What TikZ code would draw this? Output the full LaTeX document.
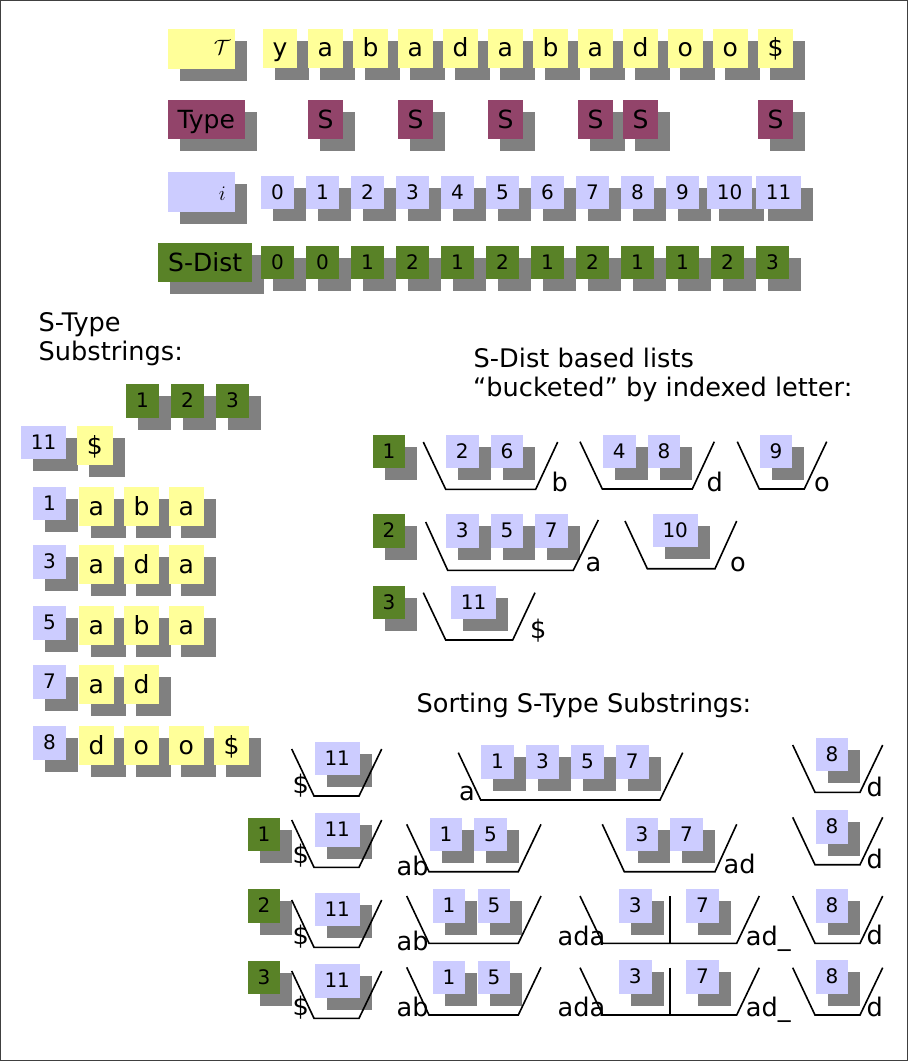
\documentclass[tikz,border=0pt]{standalone}
\usepackage{fontspec}
\setmainfont{DejaVu Sans}
\usetikzlibrary{shadows}
\definecolor{yel}{RGB}{255,255,153}
\definecolor{lav}{RGB}{204,204,255}
\definecolor{pur}{RGB}{146,68,106}
\definecolor{grnc}{RGB}{89,130,39}
\definecolor{shd}{RGB}{128,128,128}
\tikzset{
  bx/.style={inner xsep=10pt, inner ysep=5pt, anchor=north west,
    drop shadow={shadow xshift=12pt, shadow yshift=-12pt, fill=shd, opacity=1}},
  big/.style={font=\fontsize{25}{30}\selectfont, text height=23.2pt, text depth=5.9pt},
  small/.style={font=\fontsize{20}{24}\selectfont, text height=18.6pt, text depth=4.7pt},
  lbox/.style={bx, big, fill=yel},
  sbox/.style={bx, big, fill=pur},
  nbox/.style={bx, small, fill=lav},
  gbox/.style={bx, small, fill=grnc},
  txt/.style={anchor=base west, inner sep=0pt, font=\fontsize{25.6}{30}\selectfont},
  bkt/.style={draw=black, line width=1.6pt}
}
\begin{document}
\begin{tikzpicture}[x=1pt,y=-1pt]
\useasboundingbox (0,0) rectangle (908,1061);
\draw[black!75, line width=1pt] (0.8,0.8) rectangle (907.2,1060.2);

% ---------- top table ----------
\node[bx, fill=yel, minimum width=67.3pt, minimum height=40.7pt, inner sep=0pt] (Tlab) at (167.7,28.3) {};
\node[anchor=east, inner sep=0pt, font=\fontsize{20}{24}\selectfont] (Tsym) at (230.7,47.5) {$\mathcal{T}$};
\foreach \c [count=\k from 0] in {y,a,b,a,d,a,b,a,d,o,o,\$}
  \node[lbox] (T\k) at ({262.3+45*\k},28.3) {\c};

\node[sbox] (Tylab) at (167.3,100) {Type};
\foreach \k in {1,3,5,7,8,11}
  \node[sbox] (ty\k) at ({262.3+45*\k},100) {S};

\node[bx, fill=lav, minimum width=67pt, minimum height=40pt, inner sep=0pt] (ilab) at (168,172) {};
\node[anchor=east, inner sep=0pt, font=\fontsize{20}{24}\selectfont] (isym) at (226,193.5) {$i$};
\foreach \k in {0,...,9}
  \node[nbox] (ix\k) at ({261+45*\k},175.3) {\k};
\node[nbox] (ix10) at (706.7,175.3) {10};
\node[nbox] (ix11) at (755.7,175.3) {11};

\node[bx, big, fill=grnc] (sdlab) at (158,243) {S-Dist};
\foreach \v [count=\k from 0] in {0,0,1,2,1,2,1,2,1,1,2,3}
  \node[gbox] (sd\k) at ({261+45*\k},245.7) {\v};

% ---------- S-type substrings ----------
\node[txt] (st1) at (38.5,331.7) {S-Type};
\node[txt] (st2) at (38.5,360.7) {Substrings:};
\node[gbox] (h1) at (126,384) {1};
\node[gbox] (h2) at (171,384) {2};
\node[gbox] (h3) at (216,384) {3};

\node[nbox] (s11) at (20.7,425.7) {11};
\node[lbox] (s11a) at (76.7,426) {\$};

\node[nbox] (s1) at (33,486.7) {1};
\foreach \c [count=\k from 0] in {a,b,a}
  \node[lbox] (s1c\k) at ({78.3+45*\k},487) {\c};
\node[nbox] (s3) at (33,545) {3};
\foreach \c [count=\k from 0] in {a,d,a}
  \node[lbox] (s3c\k) at ({78.3+45*\k},545) {\c};
\node[nbox] (s5) at (33,606) {5};
\foreach \c [count=\k from 0] in {a,b,a}
  \node[lbox] (s5c\k) at ({78.3+45*\k},606) {\c};
\node[nbox] (s7) at (33,665) {7};
\foreach \c [count=\k from 0] in {a,d}
  \node[lbox] (s7c\k) at ({78.3+45*\k},665) {\c};
\node[nbox] (s8) at (33,726) {8};
\foreach \c [count=\k from 0] in {d,o,o,\$}
  \node[lbox] (s8c\k) at ({78.3+45*\k},726) {\c};

% ---------- S-Dist based lists ----------
\node[txt] (bl1) at (473.5,367.3) {S-Dist based lists};
\node[txt] (bl2) at (473,396.7) {“bucketed” by indexed letter:};

\node[gbox] (m1) at (372.3,434.3) {1};
\node[gbox] (m2) at (372.3,514) {2};
\node[gbox] (m3) at (372.3,585.3) {3};

\node[nbox] (mb2) at (445.7,434.3) {2};
\node[nbox] (mb6) at (490.3,434.3) {6};
\node[nbox] (md4) at (602.7,434.3) {4};
\node[nbox] (md8) at (647.3,434.3) {8};
\node[nbox] (mo9) at (759.3,434.3) {9};
\node[nbox] (ma3) at (445.7,514) {3};
\node[nbox] (ma5) at (490.3,514) {5};
\node[nbox] (ma7) at (534.7,514) {7};
\node[nbox] (mo10) at (652.3,513.7) {10};
\node[nbox] (mz11) at (450.7,585.3) {11};

\draw[bkt] (423.3,442) -- (445.7,489.3) -- (535.7,489.3) -- (557.7,442);
\draw[bkt] (580,441.7) -- (602.3,489) -- (692.3,489) -- (714.3,441.7);
\draw[bkt] (737.3,441.7) -- (759.3,489) -- (804.3,489) -- (826.7,441.7);
\draw[bkt] (425.7,522) -- (447.7,570.3) -- (573.3,570.3) -- (598.3,520);
\draw[bkt] (625,521) -- (647.3,568.7) -- (715,568.7) -- (736.7,521);
\draw[bkt] (423.3,592.7) -- (445.7,640) -- (512.7,640) -- (535,592.7);

\node[txt] (lb) at (551.5,491.7) {b};
\node[txt] (ld) at (706.5,491.7) {d};
\node[txt] (lo1) at (814,491.7) {o};
\node[txt] (la) at (585.5,571.7) {a};
\node[txt] (lo2) at (730,571.7) {o};
\node[txt] (ldol) at (530,638) {\$};

% ---------- Sorting ----------
\node[txt] (srt) at (416.5,712) {Sorting S-Type Substrings:};

% row 0
\node[nbox] (r0n11) at (314.3,741.3) {11};
\node[nbox] (r0n1) at (481,745) {1};
\node[nbox] (r0n3) at (526,745) {3};
\node[nbox] (r0n5) at (571,745) {5};
\node[nbox] (r0n7) at (615.7,745) {7};
\node[nbox] (r0n8) at (815.3,737.3) {8};
\draw[bkt] (291.7,749) -- (314,796) -- (359,796) -- (381.7,749);
\draw[bkt] (458.3,752.7) -- (480.7,800) -- (660,800) -- (682.7,752.7);
\draw[bkt] (792.7,745) -- (815,792.3) -- (860,792.3) -- (882.7,745);
\node[txt] (r0l1) at (292.5,793) {\$};
\node[txt] (r0l2) at (459,800) {a};
\node[txt] (r0l3) at (866.5,796.7) {d};

% row 1
\node[gbox] (r1g) at (247.3,817.3) {1};
\node[nbox] (r1n11) at (314.3,813) {11};
\node[nbox] (r1n1) at (429.3,817.3) {1};
\node[nbox] (r1n5) at (474,817.3) {5};
\node[nbox] (r1n3) at (625.3,817.3) {3};
\node[nbox] (r1n7) at (670,817.3) {7};
\node[nbox] (r1n8) at (815.3,810) {8};
\draw[bkt] (291.7,820) -- (314,867.3) -- (359,867.3) -- (381.7,820);
\draw[bkt] (406.7,824.3) -- (429,871.7) -- (518.3,871.7) -- (541,824.3);
\draw[bkt] (602.3,824.3) -- (624.3,871.7) -- (715,871.7) -- (736.7,824.3);
\draw[bkt] (792.7,817.3) -- (815,864.7) -- (860,864.7) -- (882.7,817.3);
\node[txt] (r1l1) at (292.5,863.5) {\$};
\node[txt] (r1l2) at (396.5,875.7) {ab};
\node[txt] (r1l3) at (723.5,873.3) {ad};
\node[txt] (r1l4) at (866.5,868.3) {d};

% row 2
\node[gbox] (r2g) at (247.3,889) {2};
\node[nbox] (r2n11) at (314.3,892.3) {11};
\node[nbox] (r2n1) at (432.3,889) {1};
\node[nbox] (r2n5) at (477.3,889) {5};
\node[nbox] (r2n3) at (618.7,889) {3};
\node[nbox] (r2n7) at (686,889) {7};
\node[nbox] (r2n8) at (815.3,889) {8};
\draw[bkt] (291.7,900) -- (314,947.3) -- (359,947.3) -- (381.7,900);
\draw[bkt] (406.7,896) -- (429,943.3) -- (518.3,943.3) -- (541,896);
\draw[bkt] (580,896) -- (602.7,943.3) -- (736.7,943.3) -- (759.3,896);
\draw[bkt] (670,896) -- (670,943.3);
\draw[bkt] (792.7,896) -- (815,943.3) -- (860,943.3) -- (882.7,896);
\node[txt] (r2l1) at (292.5,944.7) {\$};
\node[txt] (r2l2) at (396.5,950.7) {ab};
\node[txt] (r2l3) at (557.5,945) {ada};
\node[txt] (r2l4) at (745.7,945) {ad\_};
\node[txt] (r2l5) at (866.5,944.3) {d};

% row 3
\node[gbox] (r3g) at (247.3,960.7) {3};
\node[nbox] (r3n11) at (314.3,964) {11};
\node[nbox] (r3n1) at (432.3,960.7) {1};
\node[nbox] (r3n5) at (477.3,960.7) {5};
\node[nbox] (r3n3) at (618.7,960) {3};
\node[nbox] (r3n7) at (686,960) {7};
\node[nbox] (r3n8) at (815.3,960) {8};
\draw[bkt] (291.7,971) -- (314,1018.3) -- (359,1018.3) -- (381.7,971);
\draw[bkt] (406.7,967.3) -- (429,1015) -- (518.3,1015) -- (541,967.3);
\draw[bkt] (580,967.7) -- (602.7,1015) -- (736.7,1015) -- (759.3,967.7);
\draw[bkt] (670,967.7) -- (670,1015);
\draw[bkt] (792.7,967.7) -- (815,1015) -- (860,1015) -- (882.7,967.7);
\node[txt] (r3l1) at (292.5,1015.7) {\$};
\node[txt] (r3l2) at (396.5,1016.7) {ab};
\node[txt] (r3l3) at (557.5,1016.5) {ada};
\node[txt] (r3l4) at (745.7,1016) {ad\_};
\node[txt] (r3l5) at (866.5,1016) {d};
\end{tikzpicture}
\end{document}
